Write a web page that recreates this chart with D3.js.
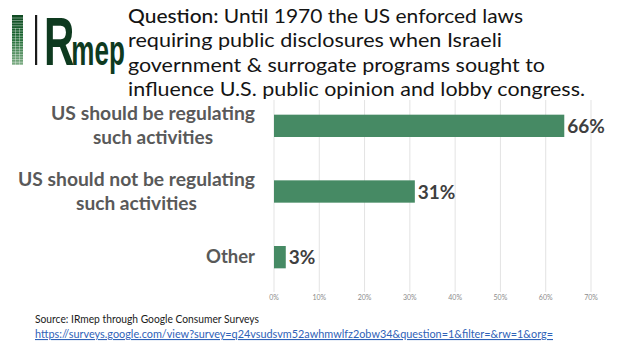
<!DOCTYPE html>
<html>
<head>
<meta charset="utf-8">
<script src="https://cdn.jsdelivr.net/npm/d3@7"></script>
<style>
  body { margin: 0; background: #fff; }
  svg { display: block; font-family: Lato, "Open Sans", sans-serif; }
</style>
</head>
<body>
<svg width="623" height="351"></svg>
<script>
// **** data ****
var categories = [
  ['US should be regulating', 'such activities'],
  ['US should not be regulating', 'such activities'],
  ['Other']
];
// bar lengths as drawn in the picture, and the labels printed beside them
var barValues = [0.641, 0.311, 0.026];
var valueLabels = ['66%', '31%', '3%'];
var tickValues = [0, 0.1, 0.2, 0.3, 0.4, 0.5, 0.6, 0.7];

var titleLines = [
  'Until 1970 the US enforced laws',
  'requiring public disclosures when Israeli',
  'government & surrogate programs sought to',
  'influence U.S. public opinion and lobby congress.'
];
var titleWidths = [395, 374, 417, 457];
var labelWidths = [[204, 120], [237, 121], [49]];

var svg = d3.select('svg');

// **** scales ****
var xScale = d3.scaleLinear().domain([0, 0.7]).range([274, 591]);
var yScale = d3.scaleBand()
    .domain(d3.range(categories.length))
    .range([93, 290])
    .paddingInner(0.66)
    .paddingOuter(0.33);

// **** gridlines + tick labels ****
svg.append('g')
    .selectAll('line')
    .data(tickValues)
    .join('line')
    .attr('x1', d => xScale(d)).attr('x2', d => xScale(d))
    .attr('y1', 100).attr('y2', 292)
    .attr('stroke', '#e3e3e3')
    .attr('stroke-width', 1);

svg.append('g')
    .selectAll('text')
    .data(tickValues)
    .join('text')
    .attr('x', d => xScale(d))
    .attr('y', 300)
    .attr('text-anchor', 'middle')
    .style('font-size', '7px')
    .style('fill', '#8c8c8c')
    .text(d => d3.format('.0%')(d));

// **** bars ****
svg.append('g')
    .selectAll('rect')
    .data(barValues)
    .join('rect')
    .attr('x', xScale(0))
    .attr('y', (d, i) => yScale(i))
    .attr('width', d => xScale(d) - xScale(0))
    .attr('height', yScale.bandwidth())
    .style('fill', '#468a64');

svg.append('g')
    .selectAll('text')
    .data(barValues)
    .join('text')
    .attr('x', d => xScale(d) + 3)
    .attr('y', (d, i) => yScale(i) + yScale.bandwidth() / 2 + 7)
    .style('font-size', '19px')
    .style('font-weight', 'bold')
    .style('fill', '#3f3f3f')
    .text((d, i) => valueLabels[i]);

// **** category labels ****
categories.forEach(function(lines, i) {
  var cy = yScale(i) + yScale.bandwidth() / 2;
  var widest = d3.max(labelWidths[i]);
  var cx = 255 - widest / 2;
  var first = lines.length > 1 ? cy - 6 : cy + 6;
  lines.forEach(function(line, j) {
    svg.append('text')
        .attr('x', cx)
        .attr('y', first + j * 24)
        .attr('text-anchor', 'middle')
        .attr('textLength', labelWidths[i][j])
        .attr('lengthAdjust', 'spacingAndGlyphs')
        .style('font-size', '18px')
        .style('font-weight', 'bold')
        .style('fill', '#595959')
        .text(line);
  });
});

// **** title ****
var titleY = [23, 47.3, 71.6, 95.9];
titleLines.forEach(function(line, i) {
  var t = svg.append('text')
      .attr('x', 128)
      .attr('y', titleY[i])
      .attr('textLength', titleWidths[i])
      .attr('lengthAdjust', 'spacingAndGlyphs')
      .style('font-size', '20px')
      .style('fill', '#141414');
  if (i === 0) {
    t.append('tspan').style('font-weight', '500').text('Question: ');
  }
  t.append('tspan').text(line);
});

// **** logo ****
var logo = svg.append('g');
var grad = svg.append('defs').append('linearGradient')
    .attr('id', 'logoGrad').attr('x1', 0).attr('x2', 0).attr('y1', 0).attr('y2', 1);
grad.append('stop').attr('offset', '0%').attr('stop-color', '#0f4a22');
grad.append('stop').attr('offset', '45%').attr('stop-color', '#1f6a35');
grad.append('stop').attr('offset', '100%').attr('stop-color', '#7fae86');
logo.append('rect').attr('x', 12).attr('y', 15).attr('width', 11).attr('height', 50)
    .style('fill', 'url(#logoGrad)');
d3.range(18, 65, 2.6).forEach(function(y) {
  logo.append('line').attr('x1', 12).attr('x2', 23).attr('y1', y).attr('y2', y)
      .attr('stroke', '#fff').attr('stroke-width', 0.6).attr('opacity', 0.7);
});
[15.7, 19.3].forEach(function(x) {
  logo.append('line').attr('x1', x).attr('x2', x).attr('y1', 28).attr('y2', 65)
      .attr('stroke', '#fff').attr('stroke-width', 0.6).attr('opacity', 0.7);
});
logo.append('rect').attr('x', 35).attr('y', 15).attr('width', 2.2).attr('height', 50)
    .style('fill', '#1a1a1a');

// "R" + "mep" in a single text, stretched upward
var mark = logo.append('text')
    .attr('transform', 'translate(44,65) scale(1,1.65)')
    .style('font-weight', 'bold')
    .style('fill', '#0e3a1f');
mark.append('tspan')
    .style('font-family', '"Liberation Sans", sans-serif')
    .style('font-size', '42px')
    .text('R');
mark.append('tspan')
    .attr('dx', -3)
    .style('font-family', '"Liberation Sans Narrow", "Liberation Sans", sans-serif')
    .style('font-size', '26px')
    .text('mep');

// **** source ****
svg.append('text')
    .attr('x', 35).attr('y', 323)
    .attr('textLength', 224).attr('lengthAdjust', 'spacingAndGlyphs')
    .style('font-size', '11px').style('fill', '#1a1a1a')
    .text('Source: IRmep through Google Consumer Surveys');

svg.append('text')
    .attr('x', 35).attr('y', 338)
    .attr('textLength', 518).attr('lengthAdjust', 'spacingAndGlyphs')
    .style('font-size', '11px').style('fill', '#2f62b8')
    .style('text-decoration', 'underline')
    .text('https://surveys.google.com/view?survey=q24vsudsvm52awhmwlfz2obw34&question=1&filter=&rw=1&org=');
</script>
</body>
</html>
